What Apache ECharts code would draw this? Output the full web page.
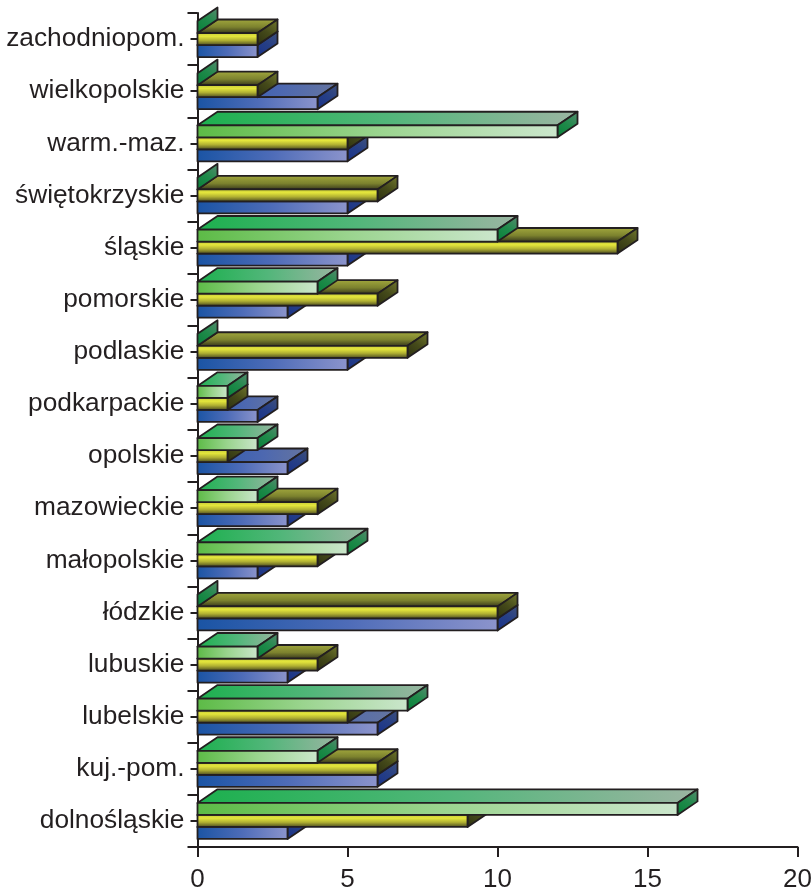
<!DOCTYPE html>
<html>
<head>
<meta charset="utf-8">
<style>html,body{margin:0;padding:0;background:#fff}#c{width:812px;height:890px}</style>
<script src="https://cdn.jsdelivr.net/npm/echarts@6/dist/echarts.min.js"></script>
</head>
<body>
<div id="c"></div>
<script>
const categories = ['dolnośląskie','kuj.-pom.','lubelskie','lubuskie','łódzkie','małopolskie','mazowieckie','opolskie','podkarpackie','podlaskie','pomorskie','śląskie','świętokrzyskie','warm.-maz.','wielkopolskie','zachodniopom.'];
const blueValues   = [3,6,6,3,10,2,3,3,2,5,3,5,5,5,4,2];
const yellowValues = [9,6,5,4,10,4,4,1,1,7,6,14,6,5,2,2];
const greenValues  = [16,4,7,2,0,5,2,2,1,0,4,10,0,12,0,0];

const INK = '#231F20';
const FONT = '"Liberation Sans", Arial, sans-serif';
const stops = list => list.map(([offset,color]) => ({offset,color}));
const h = list => ({type:'linear',x:0,y:0,x2:1,y2:0,colorStops:stops(list)});
const v = list => ({type:'linear',x:0,y:0,x2:0,y2:1,colorStops:stops(list)});
const d = list => ({type:'linear',x:0,y:1,x2:1,y2:0,colorStops:stops(list)});

function barRenderer(slot, faces) {
  return function (params, api) {
    const val = api.value(0), cat = api.value(1);
    const end = api.coord([val, cat]);
    const start = api.coord([0, cat]);
    const band = api.size([0, 1])[1];
    const unit = api.size([1, 0])[0];
    const barH = band * 0.2305;
    const dx = unit * 0.667, dy = band * 0.26;
    const yTop = end[1] + (slot - 0.5) * barH;
    const yBot = yTop + barH;
    const x0 = start[0], x1 = end[0];
    const line = {stroke: INK, lineWidth: 1.8, lineJoin: 'round'};
    const poly = (pts, fill) => ({type:'polygon', shape:{points:pts}, style:Object.assign({fill}, line)});
    const kids = [];
    if (val > 0) kids.push(poly([[x0,yTop],[x0+dx,yTop-dy],[x1+dx,yTop-dy],[x1,yTop]], faces.top));
    kids.push(poly([[x1,yTop],[x1+dx,yTop-dy],[x1+dx,yBot-dy],[x1,yBot]], faces.side));
    if (val > 0) kids.push(poly([[x0,yTop],[x1,yTop],[x1,yBot],[x0,yBot]], faces.front));
    return {type:'group', children:kids};
  };
}

const blueFaces = {
  front: h([[0,'#1A54A4'],[0.5,'#4E6CB8'],[1,'#8C94CC']]),
  top: h([[0,'#2B58AE'],[0.6,'#4D68B0'],[1,'#66759F']]),
  side: d([[0,'#18318A'],[0.5,'#263F86'],[1,'#42527A']])
};
const yellowFaces = {
  front: v([[0,'#BFC438'],[0.3,'#E4E63C'],[0.6,'#B0B032'],[1,'#3A3A1E']]),
  top: v([[0,'#A4AA3E'],[0.55,'#7C822E'],[1,'#30301A']]),
  side: d([[0,'#2C3010'],[0.5,'#454A1A'],[1,'#747A2E']])
};
const greenFaces = {
  front: h([[0,'#5CBB46'],[0.5,'#9AD48E'],[1,'#CBE6CC']]),
  top: h([[0,'#1CB04E'],[0.5,'#52B67A'],[1,'#9BB5A2']]),
  side: d([[0,'#067F38'],[0.5,'#1F8A4A'],[1,'#5A8A72']])
};
const makeSeries = (name, values, slot, faces) => ({
  type:'custom', name, renderItem:barRenderer(slot, faces),
  encode:{x:0,y:1}, clip:false,
  data:values.map((val,i)=>[val,i])
});

const chart = echarts.init(document.getElementById('c'), null, {renderer:'canvas'});
chart.setOption({
  animation:false,
  backgroundColor:'#fff',
  grid:{left:197.5,right:14.5,top:13,bottom:43,containLabel:false,outerBoundsMode:'none'},
  xAxis:{
    type:'value',min:0,max:20,interval:5,
    axisLine:{show:true,lineStyle:{color:INK,width:2}},
    axisTick:{show:true,length:10,lineStyle:{color:INK,width:2}},
    splitLine:{show:false},
    axisLabel:{color:INK,fontFamily:FONT,fontSize:26,margin:14,hideOverlap:false,lineHeight:30,padding:[4,0,0,0]}
  },
  yAxis:[{
    type:'category',data:categories,
    axisLine:{show:true,lineStyle:{color:INK,width:2}},
    axisTick:{show:true,length:10,alignWithLabel:false,lineStyle:{color:INK,width:2}},
    axisLabel:{color:INK,fontFamily:FONT,fontSize:26.3,margin:13,interval:0,lineHeight:30,padding:[9,0,0,0]}
  },{
    type:'category',data:categories,position:'left',
    axisLine:{show:false},
    axisTick:{show:true,length:7,alignWithLabel:true,interval:0,lineStyle:{color:INK,width:2}},
    axisLabel:{show:false}
  }],
  series:[
    makeSeries('blue',blueValues,1,blueFaces),
    makeSeries('yellow',yellowValues,0,yellowFaces),
    makeSeries('green',greenValues,-1,greenFaces)
  ]
});
</script>
</body>
</html>
